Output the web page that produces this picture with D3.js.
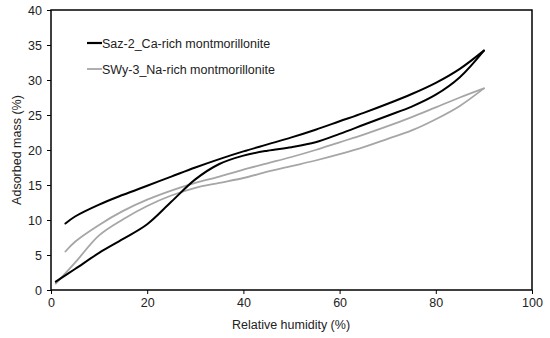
<!DOCTYPE html>
<html><head><meta charset="utf-8">
<script src="https://cdn.jsdelivr.net/npm/d3@7"></script>
<style>body{margin:0;background:#fff}svg{display:block}text{font-family:"Liberation Sans",Arial,sans-serif;fill:#222}</style>
</head><body><svg id="c" width="550" height="338"></svg>
<script>
const xTicks = [0, 20, 40, 60, 80, 100];
const yTicks = [0, 5, 10, 15, 20, 25, 30, 35, 40];
const seriesNames = ["Saz-2_Ca-rich montmorillonite", "SWy-3_Na-rich montmorillonite"];
const seriesColors = ["#000000", "#a6a6a6"];
const sazAdsRH = [1, 5, 10, 15, 20, 25, 30, 35, 40, 45, 50, 55, 60, 65, 70, 75, 80, 85, 90];
const sazAds   = [1.2, 3.0, 5.3, 7.3, 9.4, 12.6, 15.8, 18.0, 19.2, 19.9, 20.4, 21.1, 22.3, 23.6, 24.9, 26.2, 27.9, 30.4, 34.2];
const sazDesRH = [3, 5, 10, 15, 20, 25, 30, 35, 40, 45, 50, 55, 60, 65, 70, 75, 80, 85, 90];
const sazDes   = [9.5, 10.5, 12.2, 13.6, 14.9, 16.2, 17.5, 18.7, 19.8, 20.8, 21.8, 22.9, 24.1, 25.3, 26.6, 28.0, 29.6, 31.6, 34.2];
const swyAdsRH = [1, 5, 10, 15, 20, 25, 30, 35, 40, 45, 50, 55, 60, 65, 70, 75, 80, 85, 90];
const swyAds   = [0.9, 3.9, 7.8, 10.1, 12.0, 13.5, 14.6, 15.3, 16.0, 16.9, 17.7, 18.5, 19.4, 20.4, 21.6, 22.8, 24.4, 26.3, 28.8];
const swyDesRH = [3, 5, 10, 15, 20, 25, 30, 35, 40, 45, 50, 55, 60, 65, 70, 75, 80, 85, 90];
const swyDes   = [5.5, 6.9, 9.3, 11.3, 12.9, 14.2, 15.3, 16.2, 17.2, 18.1, 19.0, 20.0, 21.1, 22.2, 23.4, 24.7, 26.1, 27.5, 28.8];

const svg = d3.select("#c");
const L = 51, R = 532, T = 10, B = 290;
const x = d3.scaleLinear().domain([0, 100]).range([L, R]);
const y = d3.scaleLinear().domain([0, 40]).range([B, T]);

const xa = svg.append("g").attr("transform", `translate(0,${B})`)
  .call(d3.axisBottom(x).tickValues(xTicks).tickSize(4).tickPadding(4));
const ya = svg.append("g").attr("transform", `translate(${L},0)`)
  .call(d3.axisLeft(y).tickValues(yTicks).tickSize(4).tickPadding(5));
[xa, ya].forEach(a => {
  a.select(".domain").remove();
  a.selectAll("line").attr("stroke", "#000").attr("stroke-width", 1);
  a.selectAll("text").attr("font-size", 12.5).attr("fill", "#222")
    .style("font-family", '"Liberation Sans",Arial,sans-serif');
});
svg.append("rect").attr("x", L).attr("y", T).attr("width", R - L).attr("height", B - T)
  .attr("fill", "none").attr("stroke", "#000").attr("stroke-width", 1.5);

const line = d3.line().x(d => x(d[0])).y(d => y(d[1])).curve(d3.curveCatmullRom.alpha(0.5));
const branches = [
  [sazAdsRH, sazAds, 0], [sazDesRH, sazDes, 0],
  [swyAdsRH, swyAds, 1], [swyDesRH, swyDes, 1]
];
branches.slice().reverse().forEach(([rx, v, s]) => {
  svg.append("path").datum(rx.map((r, i) => [r, v[i]]))
    .attr("d", line).attr("fill", "none")
    .attr("stroke", seriesColors[s]).attr("stroke-width", s === 0 ? 2 : 1.8)
    .attr("stroke-linejoin", "round").attr("stroke-linecap", "round");
});

const legY = [43, 69];
seriesNames.forEach((n, i) => {
  svg.append("line").attr("x1", 87).attr("x2", 102).attr("y1", legY[i]).attr("y2", legY[i])
    .attr("stroke", seriesColors[i]).attr("stroke-width", i === 0 ? 2.2 : 1.8);
  svg.append("text").attr("x", 102).attr("y", legY[i] + 4.5).attr("font-size", 12.5).text(n);
});

svg.append("text").attr("x", 291).attr("y", 329).attr("text-anchor", "middle")
  .attr("font-size", 12.5).text("Relative humidity (%)");
svg.append("text").attr("transform", "translate(21,150) rotate(-90)").attr("text-anchor", "middle")
  .attr("font-size", 12.5).text("Adsorbed mass (%)");
</script></body></html>
